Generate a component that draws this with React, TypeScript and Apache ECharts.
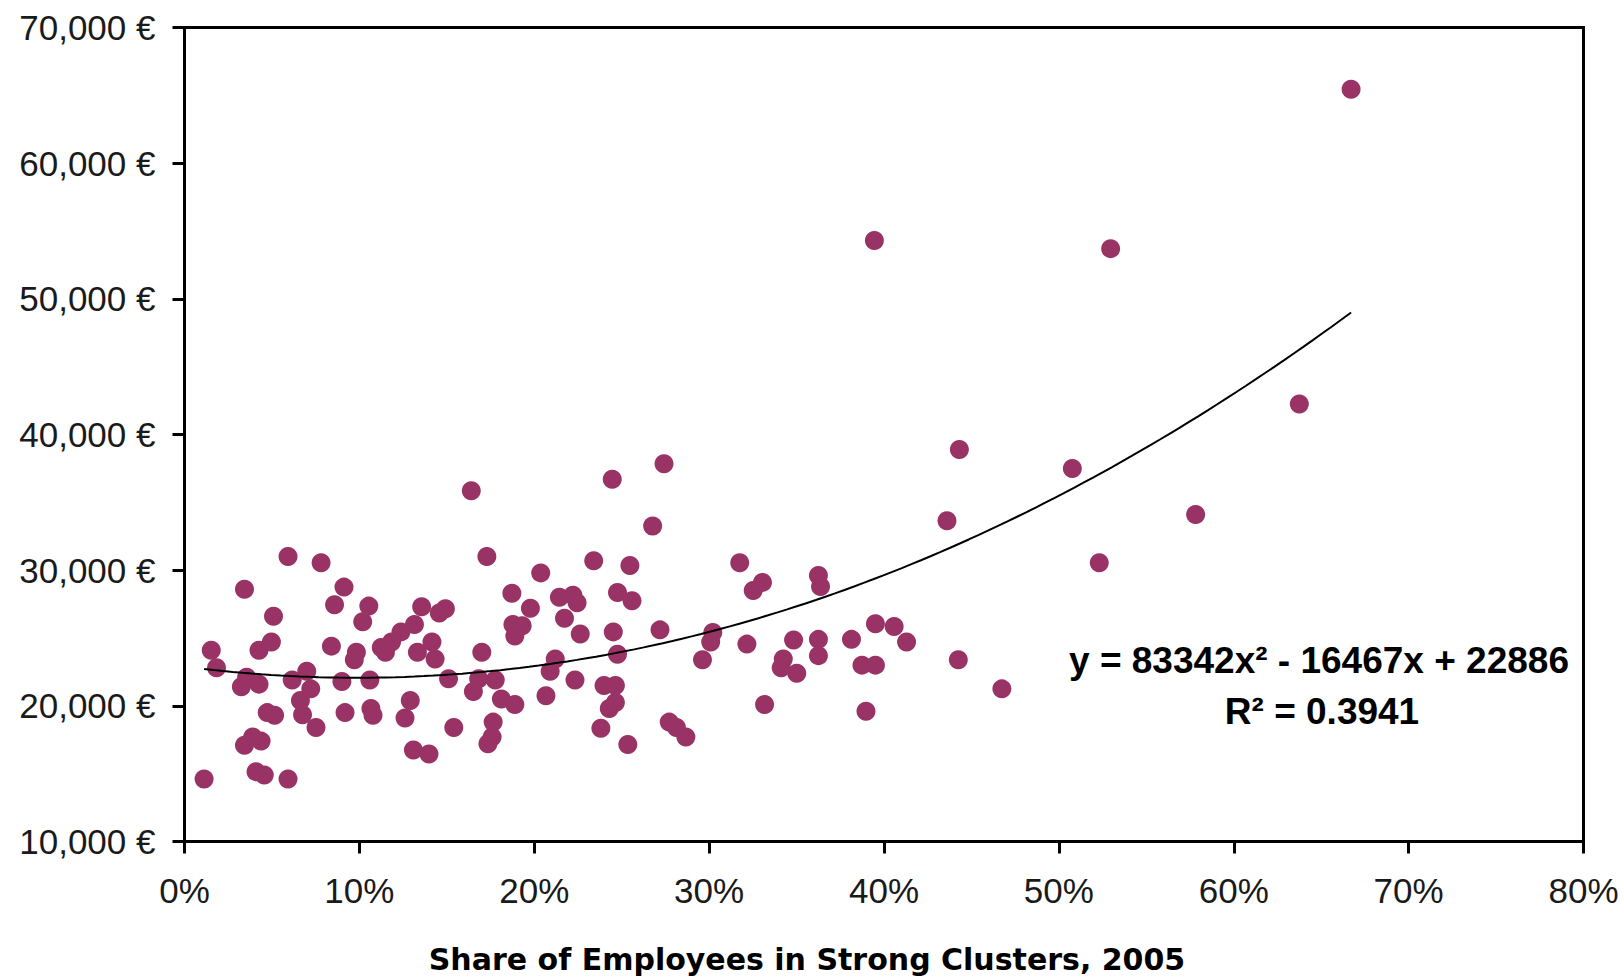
import React, { useEffect, useRef } from "react";
import * as echarts from "echarts";

// Share of employees in strong clusters, 2005 (in %)
const shareOfEmployees: number[] = [
  1.12, 1.53, 1.83, 3.43, 3.25, 3.55, 3.43, 3.9, 4.26, 4.38,
  4.09, 4.56, 5.09, 4.97, 4.73, 5.15, 4.26, 5.92, 5.92, 6.16,
  6.63, 6.75, 6.99, 7.22, 7.52, 7.81, 8.4, 8.58, 9.12, 9.0,
  9.18, 9.71, 9.83, 10.19, 10.54, 10.6, 10.66, 10.78, 11.25, 11.49,
  11.84, 12.38, 12.61, 12.91, 13.09, 13.15, 13.32, 13.56, 13.98, 14.15,
  14.33, 14.57, 14.92, 15.1, 15.4, 16.4, 16.52, 16.82, 17.0, 17.29,
  17.35, 17.59, 17.65, 17.77, 18.12, 18.72, 18.78, 18.89, 18.89, 19.31,
  19.78, 20.37, 20.67, 20.91, 21.2, 21.44, 21.73, 22.21, 22.45, 22.33,
  22.63, 23.4, 23.81, 23.99, 24.29, 24.46, 24.52, 24.64, 24.64, 24.76,
  24.76, 25.35, 25.47, 25.59, 26.77, 27.19, 27.42, 27.72, 28.13, 28.67,
  29.62, 30.09, 30.21, 31.75, 32.16, 32.52, 33.05, 33.17, 34.12, 34.24,
  34.83, 35.01, 36.25, 36.37, 36.25, 36.25, 38.14, 38.97, 38.74, 39.51,
  39.45, 39.51, 40.58, 41.29, 43.6, 44.25, 44.31, 46.74, 50.77, 52.31,
  52.96, 57.82, 63.75, 66.71,
];

// Labour productivity (EUR per employee)
const gdpPerEmployee: number[] = [
  14600, 24100, 22800, 28600, 21400, 22100, 17100, 17700, 24100, 17400,
  15150, 14900, 26600, 24700, 19500, 19300, 21600, 31000, 14600, 21900,
  20400, 19350, 22550, 21250, 18400, 30550, 24400, 27450, 28750, 21800,
  19500, 23400, 23950, 26200, 27350, 21900, 19800, 19300, 24300, 23950,
  24700, 25450, 19100, 20400, 16750, 26000, 23950, 27300, 16450, 24700,
  23450, 26850, 27150, 22000, 18400, 35850, 21050, 22000, 23950, 31000,
  17200, 17700, 18800, 21900, 20500, 28300, 26000, 25150, 20100, 25900,
  27200, 29800, 20750, 22550, 23450, 28000, 26450, 28150, 27600, 21900,
  25300, 30700, 18350, 21500, 19800, 36700, 25450, 21500, 20250, 23800,
  28350, 17150, 30350, 27750, 33250, 25600, 37850, 18800, 18400, 17700,
  23400, 24700, 25400, 30550, 24550, 28500, 29100, 20100, 22800, 23450,
  24850, 22400, 29600, 28800, 24900, 23700, 24900, 19600, 23000, 23000,
  54300, 26050, 25850, 24700, 33650, 23400, 38900, 21250, 37500, 30550,
  53700, 34100, 42250, 65450,
];

// Polynomial trendline coefficients as printed on the chart (x as fraction)
const trendA = 83342;
const trendB = -16467;
const trendC = 22886;
const equationLabel = "y = 83342x\u00B2 - 16467x + 22886";
const rSquaredLabel = "R\u00B2 = 0.3941";
const xAxisTitle = "Share of Employees in Strong Clusters, 2005";

const FONT = '"Liberation Sans", Arial, sans-serif';

export default function App() {
  const ref = useRef<HTMLDivElement>(null);

  useEffect(() => {
    if (!ref.current) return;
    const chart = echarts.init(ref.current, undefined, { renderer: "svg" });

    const points = shareOfEmployees.map((x, i) => [x, gdpPerEmployee[i]]);
    const xMin = Math.min(...shareOfEmployees);
    const xMax = Math.max(...shareOfEmployees);
    const trend: number[][] = [];
    const steps = 120;
    for (let i = 0; i <= steps; i++) {
      const xp = xMin + ((xMax - xMin) * i) / steps;
      const f = xp / 100;
      trend.push([xp, trendA * f * f + trendB * f + trendC]);
    }

    chart.setOption({
      animation: false,
      backgroundColor: "#ffffff",
      grid: {
        left: 184.5,
        top: 27.5,
        right: 40.5,
        bottom: 138.5,
        show: true,
        borderColor: "#000",
        borderWidth: 3,
        backgroundColor: "transparent",
      },
      xAxis: {
        type: "value",
        min: 0,
        max: 80,
        interval: 10,
        axisLine: { show: true, onZero: false, lineStyle: { color: "#000", width: 3 } },
        axisTick: { show: true, inside: false, length: 12, lineStyle: { color: "#000", width: 3 } },
        splitLine: { show: false },
        axisLabel: {
          formatter: "{value}%",
          fontSize: 35,
          fontFamily: FONT,
          color: "#1a1a1a",
          margin: 31,
          showMaxLabel: true,
          showMinLabel: true,
        },
      },
      yAxis: {
        type: "value",
        min: 10000,
        max: 70000,
        interval: 10000,
        axisLine: { show: true, onZero: false, lineStyle: { color: "#000", width: 3 } },
        axisTick: { show: true, inside: false, length: 12, lineStyle: { color: "#000", width: 3 } },
        splitLine: { show: false },
        axisLabel: {
          formatter: (v: number) => v.toLocaleString("en-US") + " \u20AC",
          fontSize: 35,
          fontFamily: FONT,
          color: "#1a1a1a",
          margin: 29,
          showMaxLabel: true,
          showMinLabel: true,
        },
      },
      series: [
        {
          type: "scatter",
          data: points,
          symbol: "circle",
          symbolSize: 19,
          itemStyle: { color: "#993366", opacity: 1 },
          z: 2,
        },
        {
          type: "line",
          data: trend,
          showSymbol: false,
          symbol: "none",
          smooth: false,
          lineStyle: { color: "#000", width: 2 },
          z: 3,
        },
      ],
      graphic: [
        {
          type: "text",
          x: 1319,
          y: 660,
          style: {
            text: equationLabel,
            align: "center",
            verticalAlign: "middle",
            fontSize: 37,
            fontWeight: "bold",
            fontFamily: FONT,
            fill: "#000",
          },
          z: 10,
        },
        {
          type: "text",
          x: 1322,
          y: 711,
          style: {
            text: rSquaredLabel,
            align: "center",
            verticalAlign: "middle",
            fontSize: 37,
            fontWeight: "bold",
            fontFamily: FONT,
            fill: "#000",
          },
          z: 10,
        },
        {
          type: "text",
          x: 807,
          y: 959,
          style: {
            text: xAxisTitle,
            align: "center",
            verticalAlign: "middle",
            fontSize: 30,
            fontWeight: "bold",
            fontFamily: '"DejaVu Sans", Verdana, sans-serif',
            fill: "#000",
          },
          z: 10,
        },
      ],
    });

    return () => chart.dispose();
  }, []);

  return (
    <div
      ref={ref}
      style={{ position: "absolute", left: 0, top: 0, width: 1624, height: 980 }}
    />
  );
}
